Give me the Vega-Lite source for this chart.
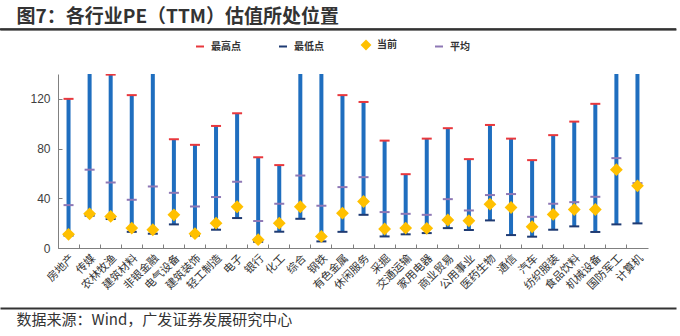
{
  "$schema": "https://vega.github.io/schema/vega-lite/v6.json",
  "autosize": "none",
  "width": 676,
  "height": 174,
  "padding": {"left": 0, "top": 74, "right": 4, "bottom": 88},
  "background": "white",
  "config": {
    "view": {"stroke": null},
    "font": "Noto Sans CJK SC",
    "axisY": {"labelOverlap": false}
  },
  "datasets": {
    "pe": [
      {"c": "房地产", "max": 120, "min": 10, "cur": 11, "avg": 34.5},
      {"c": "传媒", "max": 170, "min": 26, "cur": 27.5, "avg": 63},
      {"c": "农林牧渔", "max": 139.5, "min": 23.3, "cur": 25.4, "avg": 52.7},
      {"c": "建筑材料", "max": 123, "min": 13, "cur": 16, "avg": 38.8},
      {"c": "非银金融", "max": 200, "min": 11.5, "cur": 14.7, "avg": 49.5},
      {"c": "电气设备", "max": 87.5, "min": 19, "cur": 26.7, "avg": 44.4},
      {"c": "建筑装饰", "max": 83, "min": 10, "cur": 11.5, "avg": 33.4},
      {"c": "轻工制造", "max": 98.2, "min": 14.7, "cur": 20, "avg": 41},
      {"c": "电子", "max": 108.4, "min": 24.1, "cur": 33.2, "avg": 53.3},
      {"c": "银行", "max": 73, "min": 5, "cur": 6.7, "avg": 21.7},
      {"c": "化工", "max": 66.7, "min": 13.1, "cur": 20, "avg": 35.6},
      {"c": "综合", "max": 160, "min": 23.5, "cur": 33.2, "avg": 58.3},
      {"c": "钢铁", "max": 180, "min": 5.3, "cur": 9.3, "avg": 34},
      {"c": "有色金属", "max": 123, "min": 13, "cur": 28, "avg": 49},
      {"c": "休闲服务", "max": 117.5, "min": 26.7, "cur": 37.4, "avg": 57},
      {"c": "采掘", "max": 86.4, "min": 9.3, "cur": 15.3, "avg": 28.9},
      {"c": "交通运输", "max": 59.4, "min": 11, "cur": 16, "avg": 27.5},
      {"c": "家用电器", "max": 88, "min": 12, "cur": 15.8, "avg": 26.7},
      {"c": "商业贸易", "max": 96.4, "min": 16, "cur": 22.5, "avg": 39.3},
      {"c": "公用事业", "max": 71.5, "min": 14.5, "cur": 21.9, "avg": 30.2},
      {"c": "医药生物", "max": 99, "min": 22.2, "cur": 35.3, "avg": 42.6},
      {"c": "通信", "max": 88, "min": 10.4, "cur": 32.6, "avg": 43.4},
      {"c": "汽车", "max": 70.7, "min": 9.1, "cur": 17.1, "avg": 25.1},
      {"c": "纺织服装", "max": 90.8, "min": 14.7, "cur": 27, "avg": 35.6},
      {"c": "食品饮料", "max": 101.7, "min": 17.4, "cur": 31, "avg": 36.9},
      {"c": "机械设备", "max": 116, "min": 12.9, "cur": 31, "avg": 41.2},
      {"c": "国防军工", "max": 190, "min": 19, "cur": 63, "avg": 72.3},
      {"c": "计算机", "max": 175, "min": 19.8, "cur": 50, "avg": 52.2}
    ]
  },
  "layer": [
    {
      "data": {"name": "pe"},
      "encoding": {
        "x": {"field": "c", "type": "nominal", "sort": null, "title": null,
          "scale": {"type": "band", "paddingInner": 0, "paddingOuter": 0, "range": [58, 648]},
          "axis": {"bandPosition": 0, "labelAngle": -45, "labelFontSize": 11, "labelColor": "#333333", "domainColor": "#808080", "tickColor": "#808080", "tickSize": -4, "labelPadding": 8, "labelFont": "Noto Sans CJK SC"}}
      },
      "layer": [
        {
          "mark": {"type": "rule", "color": "#1f6ebf", "strokeWidth": 4, "clip": true},
          "encoding": {
            "y": {"field": "min", "type": "quantitative", "scale": {"domain": [0, 140], "nice": false}, "title": null,
              "axis": {"values": [0, 20, 40, 60, 80, 100, 120, 140], "grid": false, "labelOverlap": false, "labelFontSize": 12, "labelFont": "Liberation Sans", "labelColor": "#404040", "domainColor": "#808080", "tickColor": "#808080", "tickSize": -4, "labelPadding": 12, "offset": -58}},
            "y2": {"field": "max"}
          }
        },
        {
          "transform": [{"fold": ["max", "min", "avg", "cur"], "as": ["k", "val"]},
            {"calculate": "datum.k === 'max' ? '最高点' : datum.k === 'min' ? '最低点' : datum.k === 'cur' ? '当前' : '平均'", "as": "s"}],
          "mark": {"type": "point", "clip": true, "strokeWidth": 2, "size": 100, "opacity": 1},
          "encoding": {
            "y": {"field": "val", "type": "quantitative", "axis": {"values": [0, 20, 40, 60, 80, 100, 120, 140], "labelOverlap": false, "offset": -58}},
            "shape": {"field": "s", "type": "nominal", "title": null, "scale": {"domain": ["最高点", "最低点", "当前", "平均"], "range": ["stroke", "stroke", "diamond", "stroke"]},
              "legend": {"orient": "none", "legendX": 195, "legendY": -34, "direction": "horizontal", "labelFontSize": 10, "labelFontWeight": "bold", "labelColor": "#333333", "symbolSize": 64, "symbolStrokeWidth": 2, "columnPadding": 34, "labelOffset": 6}},
            "fill": {"field": "s", "type": "nominal", "title": null, "scale": {"domain": ["最高点", "最低点", "当前", "平均"], "range": ["#e8383d", "#1f3b73", "#ffc000", "#8e78b5"]},
              "legend": {"orient": "none", "legendX": 195, "legendY": -34, "direction": "horizontal", "labelFontSize": 10, "labelFontWeight": "bold", "labelColor": "#333333", "symbolSize": 64, "symbolStrokeWidth": 2, "columnPadding": 34, "labelOffset": 6}},
            "stroke": {"field": "s", "type": "nominal", "title": null, "scale": {"domain": ["最高点", "最低点", "当前", "平均"], "range": ["#e8383d", "#1f3b73", "#ffc000", "#8e78b5"]},
              "legend": {"orient": "none", "legendX": 195, "legendY": -34, "direction": "horizontal", "labelFontSize": 10, "labelFontWeight": "bold", "labelColor": "#333333", "symbolSize": 64, "symbolStrokeWidth": 2, "columnPadding": 34, "labelOffset": 6}}
          }
        }
      ]
    },
    {
      "data": {"values": [{"a": 0, "b": 1}]},
      "mark": {"type": "rule", "color": "#333333", "strokeWidth": 2, "clip": false},
      "encoding": {
        "x": {"field": "a", "type": "quantitative", "scale": {"domain": [0, 1]},
          "axis": {"orient": "bottom", "offset": -219, "domain": true, "domainColor": "#333333", "domainWidth": 2, "ticks": false, "labels": false, "grid": false,
            "title": "图7：各行业PE（TTM）估值所处位置", "titleAnchor": "start", "titleAlign": "left", "titleX": 16, "titleY": -7, "titleBaseline": "alphabetic", "titleFontSize": 19, "titleFontWeight": "bold", "titleColor": "#333333", "titleFont": "Noto Sans CJK SC"}},
        "x2": {"field": "b"},
        "y": {"datum": 176.1, "type": "quantitative"}
      }
    },
    {
      "data": {"values": [{"f": 0}]},
      "mark": {"type": "point", "opacity": 0},
      "encoding": {
        "x": {"field": "f", "type": "quantitative", "scale": {"domain": [0, 1]},
          "axis": {"orient": "bottom", "offset": 60, "domain": true, "domainColor": "#333333", "domainWidth": 2, "ticks": false, "labels": false, "grid": false,
            "title": "数据来源：Wind，广发证券发展研究中心", "titleAnchor": "start", "titleAlign": "left", "titleX": 16, "titleY": 16, "titleBaseline": "alphabetic", "titleFontSize": 15, "titleFontWeight": "normal", "titleColor": "#333333", "titleFont": "Noto Sans CJK SC"}}
      }
    }
  ],
  "resolve": {"scale": {"x": "independent"}, "axis": {"x": "independent"}}
}
